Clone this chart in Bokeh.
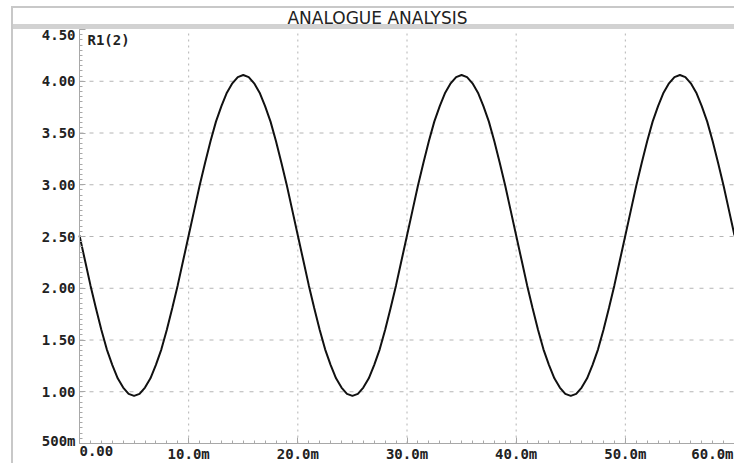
from bokeh.plotting import figure
from bokeh.models import Range1d, FixedTicker, Label
from bokeh.embed import file_html
from bokeh.resources import INLINE
import numpy as np

title_text = "ANALOGUE ANALYSIS"
trace_name = "R1(2)"

# time in ms, voltage in V
time_ms = [
    0.0, 0.5, 1.0, 1.5, 2.0, 2.5, 3.0, 3.5, 4.0, 4.5,
    5.0, 5.5, 6.0, 6.5, 7.0, 7.5, 8.0, 8.5, 9.0, 9.5,
    10.0, 10.5, 11.0, 11.5, 12.0, 12.5, 13.0, 13.5, 14.0, 14.5,
    15.0, 15.5, 16.0, 16.5, 17.0, 17.5, 18.0, 18.5, 19.0, 19.5,
    20.0, 20.5, 21.0, 21.5, 22.0, 22.5, 23.0, 23.5, 24.0, 24.5,
    25.0, 25.5, 26.0, 26.5, 27.0, 27.5, 28.0, 28.5, 29.0, 29.5,
    30.0, 30.5, 31.0, 31.5, 32.0, 32.5, 33.0, 33.5, 34.0, 34.5,
    35.0, 35.5, 36.0, 36.5, 37.0, 37.5, 38.0, 38.5, 39.0, 39.5,
    40.0, 40.5, 41.0, 41.5, 42.0, 42.5, 43.0, 43.5, 44.0, 44.5,
    45.0, 45.5, 46.0, 46.5, 47.0, 47.5, 48.0, 48.5, 49.0, 49.5,
    50.0, 50.5, 51.0, 51.5, 52.0, 52.5, 53.0, 53.5, 54.0, 54.5,
    55.0, 55.5, 56.0, 56.5, 57.0, 57.5, 58.0, 58.5, 59.0, 59.5,
    60.0,
]
voltage = [
    2.51, 2.27, 2.03, 1.81, 1.60, 1.41, 1.26, 1.13, 1.04, 0.98,
    0.96, 0.98, 1.04, 1.13, 1.26, 1.41, 1.60, 1.81, 2.03, 2.27,
    2.51, 2.75, 2.99, 3.21, 3.42, 3.61, 3.76, 3.89, 3.98, 4.04,
    4.06, 4.04, 3.98, 3.89, 3.76, 3.61, 3.42, 3.21, 2.99, 2.75,
    2.51, 2.27, 2.03, 1.81, 1.60, 1.41, 1.26, 1.13, 1.04, 0.98,
    0.96, 0.98, 1.04, 1.13, 1.26, 1.41, 1.60, 1.81, 2.03, 2.27,
    2.51, 2.75, 2.99, 3.21, 3.42, 3.61, 3.76, 3.89, 3.98, 4.04,
    4.06, 4.04, 3.98, 3.89, 3.76, 3.61, 3.42, 3.21, 2.99, 2.75,
    2.51, 2.27, 2.03, 1.81, 1.60, 1.41, 1.26, 1.13, 1.04, 0.98,
    0.96, 0.98, 1.04, 1.13, 1.26, 1.41, 1.60, 1.81, 2.03, 2.27,
    2.51, 2.75, 2.99, 3.21, 3.42, 3.61, 3.76, 3.89, 3.98, 4.04,
    4.06, 4.04, 3.98, 3.89, 3.76, 3.61, 3.42, 3.21, 2.99, 2.75,
    2.51,
]

x_tick_values = [0, 10, 20, 30, 40, 50, 60]
x_tick_labels = ["0.00", "10.0m", "20.0m", "30.0m", "40.0m", "50.0m", "60.0m"]
y_tick_values = [0.5, 1.0, 1.5, 2.0, 2.5, 3.0, 3.5, 4.0, 4.5]
y_tick_labels = ["500m", "1.00", "1.50", "2.00", "2.50", "3.00", "3.50", "4.00", "4.50"]

# ---- layout (pixels) ----
W, H = 734, 463
PL, PR, PT, PB = 79, 734, 29, 443          # data area inside the canvas
XMIN, XMAX = x_tick_values[0], x_tick_values[-1]
YMIN, YMAX = y_tick_values[0], y_tick_values[-1]
ux = (XMAX - XMIN) / (PR - PL)             # data units per pixel
uy = (YMAX - YMIN) / (PB - PT)

GRID = "#b4b4b4"
AX = "#a8a8a8"
TXT = "#222222"
LABEL_FONT = "DejaVu Sans Mono"
FS = "14px"

# the frame covers the whole canvas; axes are pinned to the data area
p = figure(width=W, height=H,
           x_range=Range1d(XMIN - PL * ux, XMAX + (W - PR) * ux),
           y_range=Range1d(YMIN - (H - PB) * uy, YMAX + PT * uy),
           output_backend="svg", toolbar_location=None,
           min_border=0, min_border_left=0, min_border_right=0,
           min_border_top=0, min_border_bottom=0,
           background_fill_alpha=0, border_fill_alpha=0,
           outline_line_color=None)
p.xgrid.visible = False
p.ygrid.visible = False

# window frame lines and title band (page decoration)
p.styles = {
    "background-color": "white",
    "background-image": ("linear-gradient(#c8c8c8,#c8c8c8),"
                         "linear-gradient(#c8c8c8,#c8c8c8),"
                         "linear-gradient(#d2d2d2,#d2d2d2)"),
    "background-position": "11px 6px, 11px 6px, 11px 24px",
    "background-size": "2px 100%, 100% 2px, 100% 5px",
    "background-repeat": "no-repeat",
}

# axes
p.xaxis.ticker = FixedTicker(ticks=x_tick_values,
                             minor_ticks=list(np.arange(XMIN, XMAX + 0.01, 1.0)))
p.yaxis.ticker = FixedTicker(ticks=y_tick_values,
                             minor_ticks=list(np.arange(YMIN, YMAX + 0.001, 0.05)))
p.xaxis.fixed_location = YMIN
p.yaxis.fixed_location = XMIN
p.xaxis.bounds = (XMIN, XMAX)
p.yaxis.bounds = (YMIN, YMAX)
n_x, n_y = len(x_tick_values), len(y_tick_values)
p.xaxis.major_label_overrides = {v: (t if 0 < i < n_x - 1 else "")
                                 for i, (v, t) in enumerate(zip(x_tick_values, x_tick_labels))}
p.yaxis.major_label_overrides = {v: (t if 0 < i < n_y - 1 else "")
                                 for i, (v, t) in enumerate(zip(y_tick_values, y_tick_labels))}
for ax in (p.xaxis[0], p.yaxis[0]):
    ax.axis_line_color = AX
    ax.axis_line_width = 1
    ax.major_tick_line_color = AX
    ax.minor_tick_line_color = AX
    ax.major_tick_in = 6
    ax.major_tick_out = 0
    ax.minor_tick_in = 3
    ax.minor_tick_out = 0
    ax.major_label_text_font = LABEL_FONT
    ax.major_label_text_font_style = "bold"
    ax.major_label_text_font_size = FS
    ax.major_label_text_color = TXT
p.xaxis.major_label_standoff = 2
p.yaxis.major_label_standoff = 4

# dotted grid, limited to the data area
p.segment(x0=x_tick_values[1:-1], y0=YMIN, x1=x_tick_values[1:-1], y1=YMAX,
          line_color=GRID, line_width=1, line_dash="2 4")
p.segment(x0=XMIN, y0=y_tick_values[1:-1], x1=XMAX, y1=y_tick_values[1:-1],
          line_color=GRID, line_width=1, line_dash="4 6")

# the trace
p.line(time_ms, voltage, line_color="#111111", line_width=2)

def lab(x, y, text, align, baseline, xo, yo, font=LABEL_FONT, size=FS, style="bold"):
    p.add_layout(Label(x=x, y=y, text=text, text_align=align, text_baseline=baseline,
                       x_offset=xo, y_offset=yo, text_font=font,
                       text_font_style=style, text_font_size=size, text_color=TXT))

# end tick labels sit inward of their ticks, as in the reference
lab(x_tick_values[0], YMIN, x_tick_labels[0], "left", "top", 0, -2)
lab(x_tick_values[-1], YMIN, x_tick_labels[-1], "right", "top", -1, -2)
lab(XMIN, y_tick_values[0], y_tick_labels[0], "right", "alphabetic", -4, 3)
lab(XMIN, y_tick_values[-1], y_tick_labels[-1], "right", "top", -4, 0)

# trace name
lab(XMIN, YMAX, trace_name, "left", "top", 8, -2)

# title
lab(XMIN + (377 - PL) * ux, YMAX + (PT - 17) * uy, title_text, "center", "middle",
    0, 0, font="DejaVu Sans", size="17px", style="normal")

open("out.html", "w").write(file_html(p, INLINE))
